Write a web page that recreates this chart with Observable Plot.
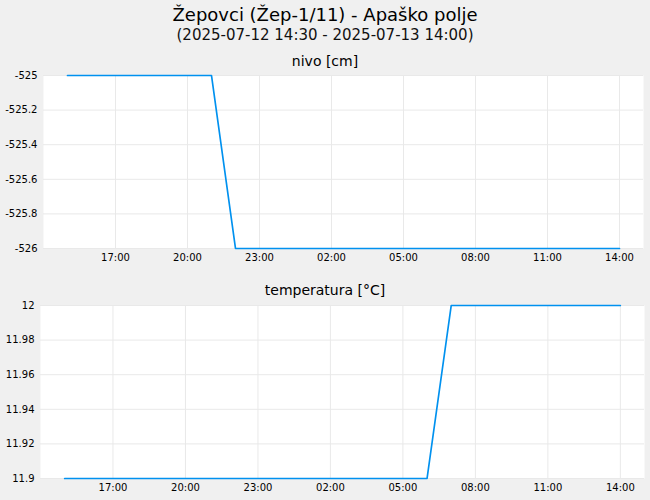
<!DOCTYPE html>
<html><head><meta charset="utf-8">
<script src="https://cdn.jsdelivr.net/npm/d3@7"></script>
<script src="https://cdn.jsdelivr.net/npm/@observablehq/plot@0.6"></script>
<style>
body{margin:0;background:#f0f0f0;font-family:"DejaVu Sans",sans-serif;}
#wrap{position:relative;width:650px;height:500px;background:#f0f0f0;overflow:hidden;}
.panel{position:absolute;left:0;}
#labels{position:absolute;left:0;top:0;}
</style></head><body>
<div id="wrap">
<div id="p1" class="panel" style="top:70px"></div>
<div id="p2" class="panel" style="top:300px"></div>
<svg id="labels" width="650" height="500" font-family="DejaVu Sans" fill="#000" text-anchor="middle"></svg>
</div>
<script>
const title = "Žepovci (Žep-1/11) - Apaško polje";
const subtitle = "(2025-07-12 14:30 - 2025-07-13 14:00)";
const panelTitles = ["nivo [cm]", "temperatura [°C]"];

const times = [
  "2025-07-12T15:00Z","2025-07-12T16:00Z","2025-07-12T17:00Z","2025-07-12T18:00Z",
  "2025-07-12T19:00Z","2025-07-12T20:00Z","2025-07-12T21:00Z","2025-07-12T22:00Z",
  "2025-07-12T23:00Z","2025-07-13T00:00Z","2025-07-13T01:00Z","2025-07-13T02:00Z",
  "2025-07-13T03:00Z","2025-07-13T04:00Z","2025-07-13T05:00Z","2025-07-13T06:00Z",
  "2025-07-13T07:00Z","2025-07-13T08:00Z","2025-07-13T09:00Z","2025-07-13T10:00Z",
  "2025-07-13T11:00Z","2025-07-13T12:00Z","2025-07-13T13:00Z","2025-07-13T14:00Z"
];
const nivo = [
  -525,-525,-525,-525,-525,-525,-525,-526,
  -526,-526,-526,-526,-526,-526,-526,-526,
  -526,-526,-526,-526,-526,-526,-526,-526
];
const temperatura = [
  11.9,11.9,11.9,11.9,11.9,11.9,11.9,11.9,
  11.9,11.9,11.9,11.9,11.9,11.9,11.9,11.9,
  12,12,12,12,12,12,12,12
];
const xDomain = ["2025-07-12T14:00Z","2025-07-13T15:00Z"];
const xTicks = ["2025-07-12T17:00Z","2025-07-12T20:00Z","2025-07-12T23:00Z","2025-07-13T02:00Z",
  "2025-07-13T05:00Z","2025-07-13T08:00Z","2025-07-13T11:00Z","2025-07-13T14:00Z"];
const nivoTicks = [-526,-525.8,-525.6,-525.4,-525.2,-525];
const nivoDomain = [-526,-525];
const tempTicks = [11.9,11.92,11.94,11.96,11.98,12];
const tempDomain = [11.9,12];

const lineColor = "#0091ef";
const gridColor = "#e9e9e9";
const fmtY = d => String(+(+d).toFixed(2));
const xTickDates = xTicks.map(s => new Date(s));

function panel(values, yDomain, yTicks, marginLeft, marginRight) {
  const data = times.map((t, i) => ({t: new Date(t), v: values[i]}));
  return Plot.plot({
    width: 650, height: 200,
    marginLeft, marginRight, marginTop: 5, marginBottom: 22,
    style: {background: "transparent", fontFamily: "DejaVu Sans", fontSize: "10px", color: "#000"},
    x: {type: "utc", domain: xDomain.map(s => new Date(s)), ticks: xTickDates,
        tickFormat: d3.utcFormat("%H:%M"), tickSize: 0, tickPadding: 5, label: null},
    y: {domain: yDomain, ticks: yTicks, tickFormat: fmtY, tickSize: 0, tickPadding: 6, label: null},
    marks: [
      Plot.frame({fill: "white", stroke: "none"}),
      Plot.gridX(xTickDates, {stroke: gridColor, strokeOpacity: 1}),
      Plot.gridY(yTicks, {stroke: gridColor, strokeOpacity: 1}),
      Plot.lineY(data, {x: "t", y: "v", stroke: lineColor, strokeWidth: 1.7})
    ]
  });
}

document.getElementById("p1").appendChild(panel(nivo, nivoDomain, nivoTicks, 43, 7));
document.getElementById("p2").appendChild(panel(temperatura, tempDomain, tempTicks, 40, 6));

const svg = d3.select("#labels");
svg.append("text").attr("x", 325).attr("y", 21).attr("font-size", 18).text(title);
svg.append("text").attr("x", 325).attr("y", 40).attr("font-size", 15).attr("fill", "#111").text(subtitle);
svg.append("text").attr("x", 325).attr("y", 66).attr("font-size", 14).text(panelTitles[0]);
svg.append("text").attr("x", 325).attr("y", 295).attr("font-size", 14).text(panelTitles[1]);
</script>
</body></html>
